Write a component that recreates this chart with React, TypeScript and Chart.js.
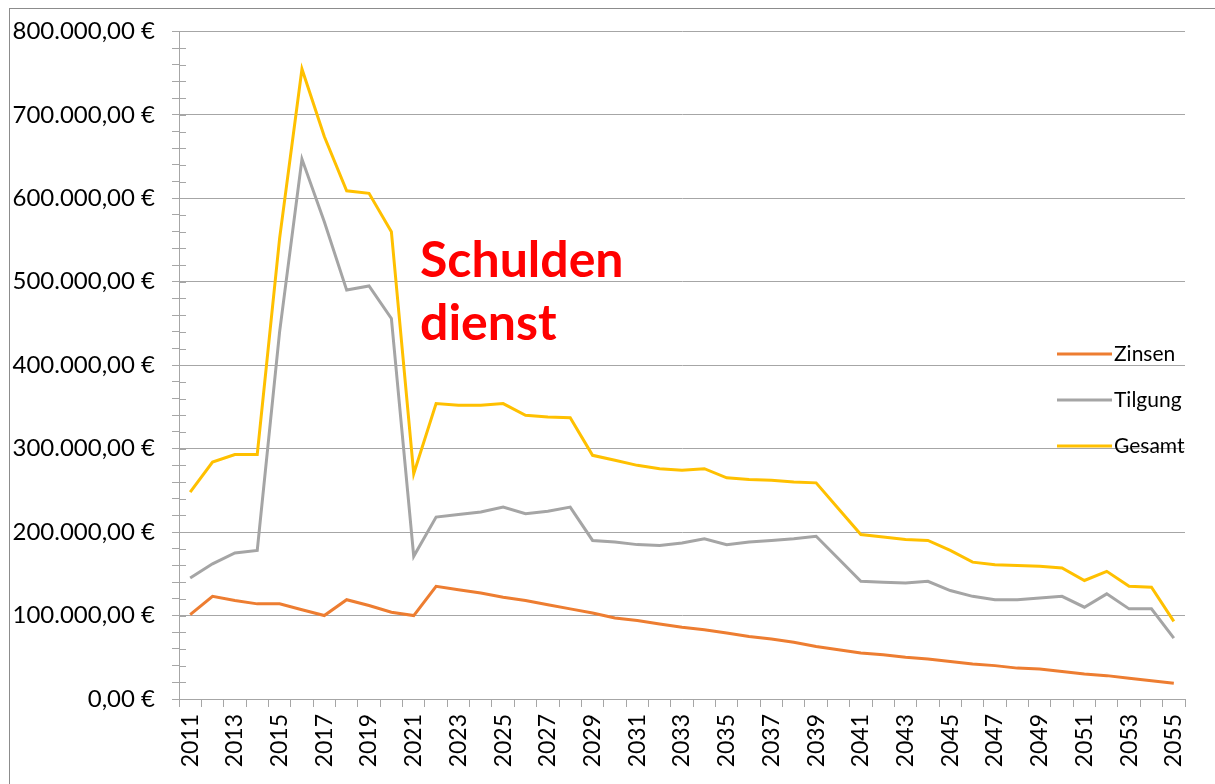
import React, { useEffect, useRef } from 'react';
import { Chart, registerables } from 'chart.js';

Chart.register(...registerables);

const years = [
  '2011', '2012', '2013', '2014', '2015', '2016', '2017', '2018', '2019', '2020',
  '2021', '2022', '2023', '2024', '2025', '2026', '2027', '2028', '2029', '2030',
  '2031', '2032', '2033', '2034', '2035', '2036', '2037', '2038', '2039', '2040',
  '2041', '2042', '2043', '2044', '2045', '2046', '2047', '2048', '2049', '2050',
  '2051', '2052', '2053', '2054', '2055',
];

const zinsen = [
  101000, 123000, 118000, 114000, 114000, 107000, 100000, 119000, 112000, 104000,
  100000, 135000, 131000, 127000, 122000, 118000, 113000, 108000, 103000, 97000,
  94000, 90000, 86000, 83000, 79000, 75000, 72000, 68000, 63000, 59000,
  55000, 53000, 50000, 48000, 45000, 42000, 40000, 37000, 36000, 33000,
  30000, 28000, 25000, 22000, 19000,
];

const tilgung = [
  145000, 162000, 175000, 178000, 440000, 647000, 572000, 490000, 495000, 456000,
  171000, 218000, 221000, 224000, 230000, 222000, 225000, 230000, 190000, 188000,
  185000, 184000, 187000, 192000, 185000, 188000, 190000, 192000, 195000, 168000,
  141000, 140000, 139000, 141000, 130000, 123000, 119000, 119000, 121000, 123000,
  110000, 126000, 108000, 108000, 73000,
];

const gesamt = [
  248000, 284000, 293000, 293000, 552000, 755000, 674000, 609000, 606000, 560000,
  270000, 354000, 352000, 352000, 354000, 340000, 338000, 337000, 292000, 286000,
  280000, 276000, 274000, 276000, 265000, 263000, 262000, 260000, 259000, 228000,
  197000, 194000, 191000, 190000, 178000, 164000, 161000, 160000, 159000, 157000,
  142000, 153000, 135000, 134000, 93000,
];

const seriesLabels = ['Zinsen', 'Tilgung', 'Gesamt'];
const seriesColors = ['#ED7D31', '#A5A5A5', '#FFC000'];
const titleLines = ['Schulden', 'dienst'];

const Y_MIN = 0;
const Y_MAX = 800000;
const Y_MINOR_STEP = 20000;
const Y_MAJOR_STEP = 100000;

const FONT = 'Lato, "Open Sans", sans-serif';
const GRID = '#a6a6a6';

function fmtEuro(v: number): string {
  const s = Math.round(v).toString().replace(/\B(?=(\d{3})+(?!\d))/g, '.');
  return s + ',00 €';
}

const framePlugin = {
  id: 'frame',
  beforeDraw(chart: any) {
    const ctx = chart.ctx;
    ctx.save();
    ctx.fillStyle = '#ffffff';
    ctx.fillRect(0, 0, chart.width, chart.height);
    ctx.strokeStyle = '#8c8c8c';
    ctx.lineWidth = 1;
    ctx.strokeRect(9.5, 8.5, chart.width + 20, chart.height + 20);
    ctx.restore();
  },
};

const crossTicksPlugin = {
  id: 'crossTicks',
  beforeDatasetsDraw(chart: any) {
    const y = chart.scales.y;
    const ctx = chart.ctx;
    ctx.save();
    ctx.strokeStyle = GRID;
    ctx.lineWidth = 1;
    y.ticks.forEach((t: any) => {
      const py = Math.round(y.getPixelForValue(t.value)) + 0.5;
      ctx.beginPath();
      ctx.moveTo(y.right, py);
      ctx.lineTo(y.right + 7, py);
      ctx.stroke();
    });
    ctx.restore();
  },
};

const overlayPlugin = {
  id: 'overlay',
  afterDraw(chart: any) {
    const ctx = chart.ctx;
    ctx.save();
    // title annotation
    ctx.fillStyle = '#FF0000';
    ctx.font = 'bold 50px ' + FONT;
    ctx.textBaseline = 'alphabetic';
    ctx.textAlign = 'left';
    ctx.fillText(titleLines[0], 420, 277);
    ctx.fillText(titleLines[1], 420, 340);
    // legend
    ctx.font = '21px ' + FONT;
    ctx.textBaseline = 'middle';
    chart.data.datasets.forEach((ds: any, i: number) => {
      const yy = 354 + i * 46;
      ctx.strokeStyle = ds.borderColor;
      ctx.lineWidth = 3;
      ctx.beginPath();
      ctx.moveTo(1057, yy);
      ctx.lineTo(1112, yy);
      ctx.stroke();
      ctx.fillStyle = '#000000';
      ctx.fillText(ds.label, 1114, yy);
    });
    ctx.restore();
  },
};

export default function App() {
  const ref = useRef<HTMLCanvasElement>(null);

  useEffect(() => {
    if (!ref.current) return;
    const chart = new Chart(ref.current, {
      type: 'line',
      data: {
        labels: years,
        datasets: [
          { label: seriesLabels[0], data: zinsen, borderColor: seriesColors[0], backgroundColor: seriesColors[0] },
          { label: seriesLabels[1], data: tilgung, borderColor: seriesColors[1], backgroundColor: seriesColors[1] },
          { label: seriesLabels[2], data: gesamt, borderColor: seriesColors[2], backgroundColor: seriesColors[2] },
        ].map((d) => ({ ...d, borderWidth: 3, pointRadius: 0, tension: 0, fill: false })),
      },
      options: {
        animation: false,
        responsive: false,
        devicePixelRatio: 1,
        layout: { padding: { top: 29, right: 30, left: 0, bottom: 0 } },
        plugins: {
          legend: { display: false },
          tooltip: { enabled: false },
          title: { display: false },
        },
        scales: {
          x: {
            type: 'category',
            offset: true,
            grid: {
              offset: true,
              drawOnChartArea: false,
              drawTicks: true,
              tickLength: 8,
              color: GRID,
            },
            border: { color: GRID, width: 1 },
            ticks: {
              autoSkip: false,
              maxRotation: 90,
              minRotation: 90,
              padding: 7,
              color: '#000000',
              font: { family: FONT, size: 23 },
              callback: (_v: any, i: number) => (i % 2 === 0 ? years[i] : ''),
            },
            afterFit: (scale: any) => {
              scale.height = 85;
            },
          },
          y: {
            min: Y_MIN,
            max: Y_MAX,
            grid: {
              drawTicks: true,
              tickLength: 7,
              tickColor: GRID,
              color: (c: any) =>
                c.tick && c.tick.value % Y_MAJOR_STEP === 0 ? GRID : 'rgba(0,0,0,0)',
            },
            border: { color: GRID, width: 1 },
            ticks: {
              stepSize: Y_MINOR_STEP,
              autoSkip: false,
              padding: 17,
              color: '#000000',
              font: { family: FONT, size: 24 },
              callback: (v: any) => (Number(v) % Y_MAJOR_STEP === 0 ? fmtEuro(Number(v)) : ''),
            },
            afterFit: (scale: any) => {
              scale.width = 179;
            },
          },
        },
      },
      plugins: [framePlugin, crossTicksPlugin, overlayPlugin],
    });
    return () => chart.destroy();
  }, []);

  return (
    <div style={{ position: 'absolute', left: 0, top: 0, width: 1215, height: 784, background: '#fff' }}>
      <canvas ref={ref} width={1215} height={784} style={{ display: 'block', width: 1215, height: 784 }} />
    </div>
  );
}
